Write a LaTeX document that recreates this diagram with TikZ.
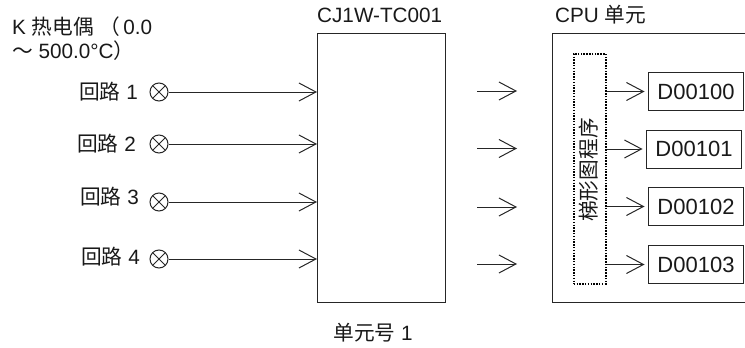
\documentclass[tikz,border=0pt]{standalone}
\usepackage{fontspec}
\setmainfont{Liberation Sans}
\newfontfamily\cjk{Noto Sans CJK SC}
\usetikzlibrary{arrows.meta}
\tikzset{
  label/.style={inner sep=0pt, text=black!90, font=\fontsize{20.7pt}{24pt}\selectfont},
  unitbox/.style={draw=black!85, line width=1pt, inner sep=0pt},
  regbox/.style={draw=black!85, line width=1pt, inner sep=0pt, minimum width=95pt, minimum height=38pt, text=black!90, font=\fontsize{22pt}{26pt}\selectfont},
  sensor/.style={draw=black!85, circle, inner sep=0pt, minimum size=18pt, line width=1pt,
    path picture={\draw[black!85, line width=1pt] (path picture bounding box.north west) -- (path picture bounding box.south east)
      (path picture bounding box.north east) -- (path picture bounding box.south west);}},
  wire/.style={draw=black!85, line width=1pt, -{Straight Barb[length=17pt, width=18pt, line width=1pt]}},
}
\begin{document}
\begin{tikzpicture}[x=1pt, y=-1pt]
  \useasboundingbox (0,0) rectangle (745,348);

  % Thermocouple title
  \node[label, anchor=west] (title1) at (12,26.5) {K {\cjk 热电偶} {\cjk （}\hspace{3pt}0.0};
  \node[label, anchor=west] (title2) at (12,50.5) {{\cjk ～} 500.0°C{\cjk ）}};

  % Units
  \node[label, anchor=west] (tctitle) at (317,15) {CJ1W-TC001};
  \node[unitbox, anchor=north west, minimum width=128pt, minimum height=269pt] (tc) at (317,33) {};
  \node[label] (unitno) at (373,333) {{\cjk 单元号} 1};
  \node[label, anchor=west] (cputitle) at (555,15) {CPU {\cjk 单元}};
  \draw[black!85, line width=1pt] (745,33.5) -- (552.5,33.5) -- (552.5,302.5) -- (745,302.5);

  % Ladder program
  \node[draw=black, dash pattern=on 1.5pt off 1.3pt, line width=1.5pt, anchor=north west, inner sep=0pt,
    minimum width=32pt, minimum height=230pt] (prog) at (573,53) {};
  \node[label, rotate=90] (progtext) at (589,170) {{\cjk 梯形图程序}};

  % Inputs
  \node[label, anchor=east] (name1) at (138,92) {{\cjk 回路} 1};
  \node[label, anchor=east] (name2) at (136,144) {{\cjk 回路} 2};
  \node[label, anchor=east] (name3) at (139,197) {{\cjk 回路} 3};
  \node[label, anchor=east] (name4) at (140,257) {{\cjk 回路} 4};
  \node[sensor] (in1) at (159,92) {};
  \node[sensor] (in2) at (159,144) {};
  \node[sensor] (in3) at (159,202) {};
  \node[sensor] (in4) at (159,259) {};
  \draw[wire] (in1.east) -- (in1.east -| tc.west);
  \draw[wire] (in2.east) -- (in2.east -| tc.west);
  \draw[wire] (in3.east) -- (in3.east -| tc.west);
  \draw[wire] (in4.east) -- (in4.east -| tc.west);

  % Transfer arrows
  \coordinate (a1) at (477,91);
  \coordinate (b1) at (517,91);
  \coordinate (a2) at (477,148.5);
  \coordinate (b2) at (517,148.5);
  \coordinate (a3) at (477,207);
  \coordinate (b3) at (517,207);
  \coordinate (a4) at (477,264);
  \coordinate (b4) at (517,264);
  \draw[wire] (a1) -- (b1);
  \draw[wire] (a2) -- (b2);
  \draw[wire] (a3) -- (b3);
  \draw[wire] (a4) -- (b4);

  % Data registers
  \node[regbox, anchor=north west] (d1) at (648,72) {D00100};
  \node[regbox, anchor=north west] (d2) at (646,129.5) {D00101};
  \node[regbox, anchor=north west] (d3) at (648,187) {D00102};
  \node[regbox, anchor=north west] (d4) at (648,245) {D00103};
  \draw[wire, shorten >=3.5pt] (d1.west -| prog.east) -- (d1.west);
  \draw[wire, shorten >=3.5pt] (d2.west -| prog.east) -- (d2.west);
  \draw[wire, shorten >=3.5pt] (d3.west -| prog.east) -- (d3.west);
  \draw[wire, shorten >=3.5pt] (d4.west -| prog.east) -- (d4.west);
\end{tikzpicture}
\end{document}
